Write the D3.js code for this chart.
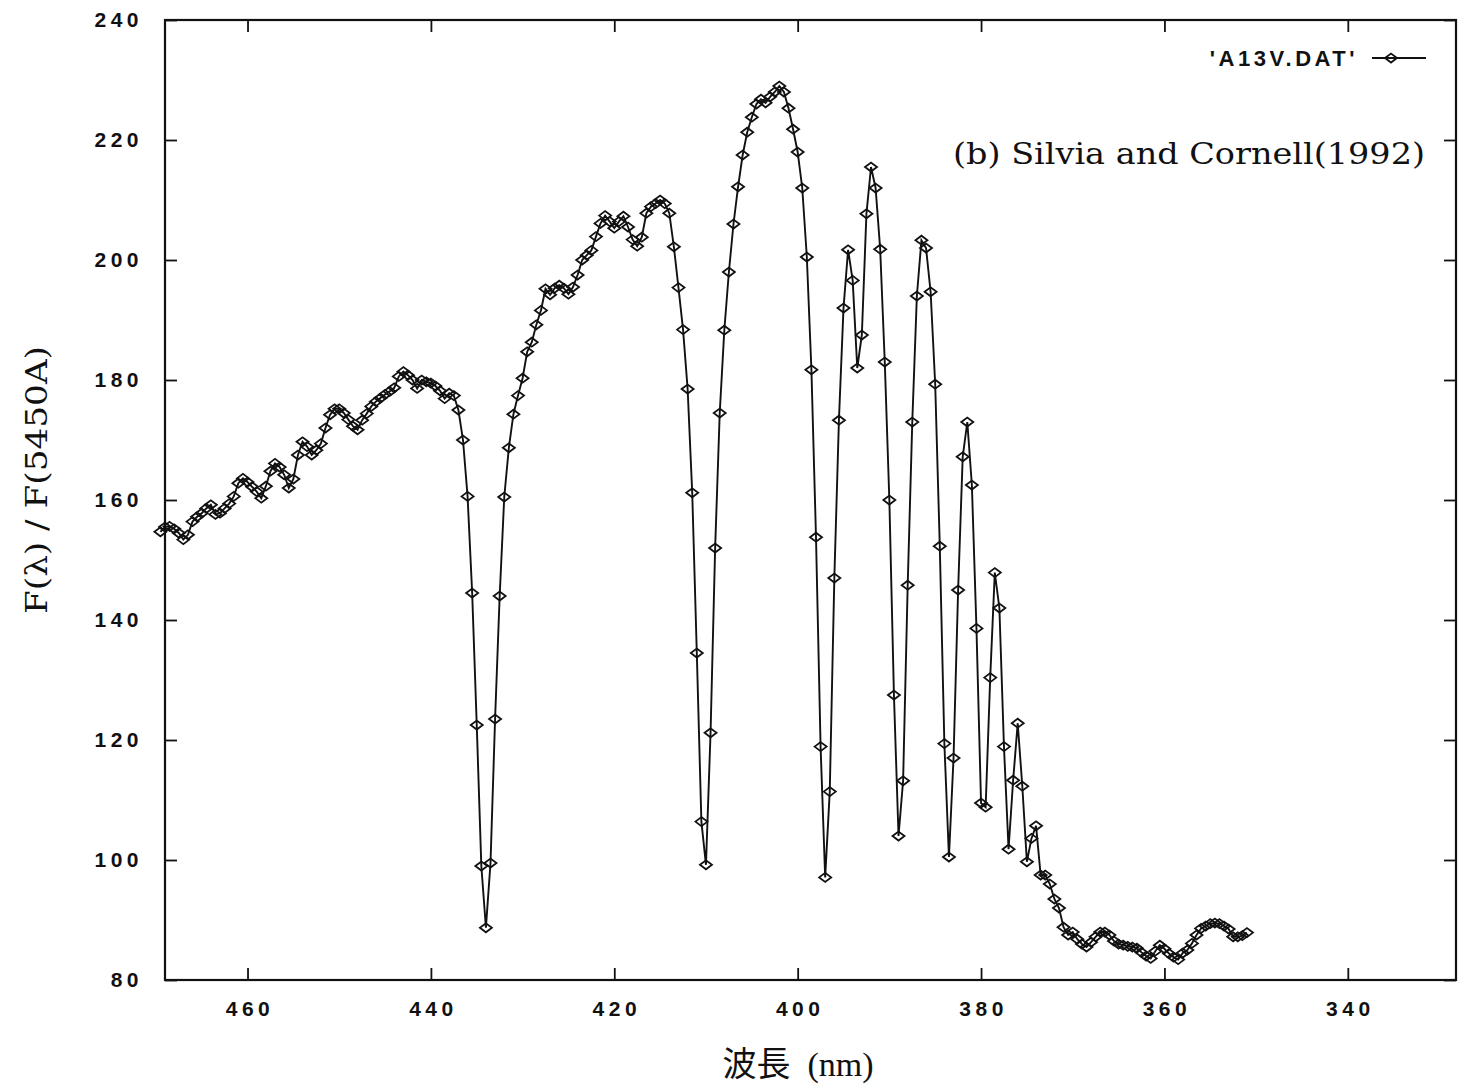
<!DOCTYPE html>
<html>
<head>
<meta charset="utf-8">
<script src="https://cdn.jsdelivr.net/npm/d3@7"></script>
<style>
  body { margin: 0; background: #fff; }
  svg { display: block; }
</style>
</head>
<body>
<div id="container"></div>
<script>
/* DATA */
const wavelength = [
  469.5, 469, 468.5, 468, 467.5, 467, 466.5, 466, 465.5, 465,
  464.5, 464, 463.5, 463, 462.5, 462, 461.5, 461, 460.5, 460,
  459.5, 459, 458.5, 458, 457.5, 457, 456.5, 456, 455.5, 455,
  454.5, 454, 453.5, 453, 452.5, 452, 451.5, 451, 450.5, 450,
  449.5, 449, 448.5, 448, 447.5, 447, 446.5, 446, 445.5, 445,
  444.5, 444, 443.5, 443, 442.5, 442, 441.5, 441, 440.5, 440,
  439.5, 439, 438.5, 438, 437.5, 437, 436.5, 436, 435.5, 435,
  434.5, 434, 433.5, 433, 432.5, 432, 431.5, 431, 430.5, 430,
  429.5, 429, 428.5, 428, 427.5, 427, 426.5, 426, 425.5, 425,
  424.5, 424, 423.5, 423, 422.5, 422, 421.5, 421, 420.5, 420,
  419.5, 419, 418.5, 418, 417.5, 417, 416.5, 416, 415.5, 415,
  414.5, 414, 413.5, 413, 412.5, 412, 411.5, 411, 410.5, 410,
  409.5, 409, 408.5, 408, 407.5, 407, 406.5, 406, 405.5, 405,
  404.5, 404, 403.5, 403, 402.5, 402, 401.5, 401, 400.5, 400,
  399.5, 399, 398.5, 398, 397.5, 397, 396.5, 396, 395.5, 395,
  394.5, 394, 393.5, 393, 392.5, 392, 391.5, 391, 390.5, 390,
  389.5, 389, 388.5, 388, 387.5, 387, 386.5, 386, 385.5, 385,
  384.5, 384, 383.5, 383, 382.5, 382, 381.5, 381, 380.5, 380,
  379.5, 379, 378.5, 378, 377.5, 377, 376.5, 376, 375.5, 375,
  374.5, 374, 373.5, 373, 372.5, 372, 371.5, 371, 370.5, 370,
  369.5, 369, 368.5, 368, 367.5, 367, 366.5, 366, 365.5, 365,
  364.5, 364, 363.5, 363, 362.5, 362, 361.5, 361, 360.5, 360,
  359.5, 359, 358.5, 358, 357.5, 357, 356.5, 356, 355.5, 355,
  354.5, 354, 353.5, 353, 352.5, 352, 351.5, 351
];

const flux = [
  154.7, 155.5, 155.6, 155.2, 154.5, 153.4, 154.2, 156.4, 157.2, 157.8,
  158.6, 159.2, 157.6, 157.8, 158.6, 159.4, 160.6, 162.8, 163.6, 163.0,
  162.2, 161.4, 160.3, 162.3, 164.8, 166.1, 165.5, 164.2, 162.0, 163.5,
  167.5, 169.7, 168.9, 167.5, 168.3, 169.4, 172.0, 174.2, 175.2, 175.2,
  174.5, 173.4, 172.3, 171.7, 173.3, 174.4, 175.6, 176.4, 177.0, 177.6,
  178.1, 178.7, 180.6, 181.4, 180.8, 180.0, 178.6, 180.0, 179.7, 179.5,
  179.0, 178.2, 176.9, 177.8, 177.4, 175.0, 170.0, 160.6, 144.5, 122.5,
  99.0, 88.7, 99.5, 123.5, 144.0, 160.5, 168.7, 174.3, 177.4, 180.3,
  184.7, 186.3, 189.2, 191.6, 195.2, 194.2, 195.3, 195.8, 195.3, 194.3,
  195.5, 197.5, 200.0, 200.8, 201.6, 203.9, 206.1, 207.4, 206.4, 205.3,
  206.4, 207.3, 205.5, 203.4, 202.3, 203.8, 207.8, 208.9, 209.4, 210.0,
  209.4, 207.8, 202.2, 195.4, 188.4, 178.5, 161.2, 134.5, 106.4, 99.2,
  121.2, 152.0, 174.5, 188.3, 198.0, 206.0, 212.2, 217.5, 221.3, 223.8,
  226.0, 226.8, 226.2, 227.2, 228.0, 229.0, 228.0, 225.3, 221.8, 218.0,
  212.0, 200.5, 181.7, 153.8, 118.9, 97.1, 111.4, 147.0, 173.3, 192.0,
  201.7, 196.6, 182.0, 187.5, 207.7, 215.5, 212.0, 201.8, 183.0, 160.0,
  127.5, 104.0, 113.2, 145.8, 173.0, 194.0, 203.3, 202.0, 194.7, 179.3,
  152.3, 119.4, 100.5, 117.0, 145.0, 167.2, 173.0, 162.5, 138.6, 109.5,
  108.8, 130.4, 147.9, 142.0, 118.9, 101.8, 113.3, 122.8, 112.3, 99.7,
  103.6, 105.7, 97.5, 97.5, 96.0, 93.5, 92.0, 88.8, 87.5, 88.0,
  86.8, 86.0, 85.5, 86.3, 87.2, 88.0, 88.0, 87.5, 86.5, 86.0,
  85.8, 85.6, 85.5, 85.3, 84.6, 84.0, 83.6, 84.8, 85.8, 85.2,
  84.4, 83.8, 83.4, 84.5, 85.0, 86.1, 87.5, 88.6, 89.0, 89.4,
  89.5, 89.4, 89.0, 88.5, 87.2, 87.2, 87.4, 87.9
];

const xTicks = [460, 440, 420, 400, 380, 360, 340];
const yTicks = [80, 100, 120, 140, 160, 180, 200, 220, 240];
const seriesName = "'A13V.DAT'";
const noteText = "(b) Silvia and Cornell(1992)";
const xTitle = "波長  (nm)";
const yTitle = "F(λ) / F(5450A)";

/* CONSTANTS */
const width = 1461,
  height = 1086,
  margin = { top: 20, right: 5, bottom: 106, left: 165 },
  tickLen = 12;

const data = wavelength.map((w, i) => ({ w: w, f: flux[i] }));

/* SCALES */
// wavelength runs right to left
const xScale = d3.scaleLinear()
  .domain([469, 328.2])
  .range([margin.left, width - margin.right]);

const yScale = d3.scaleLinear()
  .domain([80, 240])
  .range([height - margin.bottom, margin.top]);

/* SVG */
const svg = d3.select("#container")
  .append("svg")
  .attr("width", width)
  .attr("height", height);

const tickFont = "'Liberation Sans', Arial, sans-serif";
const serif = "'DejaVu Serif', 'Liberation Serif', serif";

// axes, ticks pointing inward on all four sides
svg.append("g")
  .attr("class", "x-axis")
  .attr("transform", `translate(0,${height - margin.bottom})`)
  .call(d3.axisBottom(xScale).tickValues(xTicks).tickSize(-tickLen).tickPadding(21));

svg.append("g")
  .attr("transform", `translate(0,${margin.top})`)
  .call(d3.axisTop(xScale).tickValues(xTicks).tickSize(-tickLen).tickFormat(""));

svg.append("g")
  .attr("class", "y-axis")
  .attr("transform", `translate(${margin.left},0)`)
  .call(d3.axisLeft(yScale).tickValues(yTicks).tickSize(-tickLen).tickPadding(22));

svg.append("g")
  .attr("transform", `translate(${width - margin.right},0)`)
  .call(d3.axisRight(yScale).tickValues(yTicks).tickSize(-tickLen).tickFormat(""));

svg.selectAll(".domain").remove();
svg.selectAll(".tick line").attr("stroke", "#111").attr("stroke-width", 1.8);
svg.selectAll(".tick text")
  .attr("fill", "#111")
  .style("font-family", tickFont)
  .style("font-weight", "bold")
  .style("font-size", "21px")
  .style("letter-spacing", "4.5px");
// trailing letter-spacing pushes centred labels left
svg.selectAll(".x-axis .tick text").attr("dx", "2px");

// frame
svg.append("rect")
  .attr("x", margin.left)
  .attr("y", margin.top)
  .attr("width", width - margin.left - margin.right)
  .attr("height", height - margin.top - margin.bottom)
  .attr("fill", "none")
  .attr("stroke", "#111")
  .attr("stroke-width", 2.2);

// line
const line = d3.line()
  .x(d => xScale(d.w))
  .y(d => yScale(d.f));

svg.append("path")
  .datum(data)
  .attr("d", line)
  .attr("fill", "none")
  .attr("stroke", "#111")
  .attr("stroke-width", 1.9);

// diamond markers
const diamond = "M-6,0L0,-4.5L6,0L0,4.5Z";
svg.append("g")
  .selectAll("path")
  .data(data)
  .join("path")
  .attr("transform", d => `translate(${xScale(d.w)},${yScale(d.f)})`)
  .attr("d", diamond)
  .attr("fill", "none")
  .attr("stroke", "#111")
  .attr("stroke-width", 1.8);

// legend
svg.append("text")
  .attr("x", 1358)
  .attr("y", 66)
  .attr("text-anchor", "end")
  .style("font-family", tickFont)
  .style("font-weight", "bold")
  .style("font-size", "22px")
  .style("letter-spacing", "3.5px")
  .attr("fill", "#111")
  .text(seriesName);

svg.append("line")
  .attr("x1", 1372).attr("x2", 1426)
  .attr("y1", 58).attr("y2", 58)
  .attr("stroke", "#111")
  .attr("stroke-width", 1.9);

svg.append("path")
  .attr("transform", "translate(1391,58)")
  .attr("d", diamond)
  .attr("fill", "none")
  .attr("stroke", "#111")
  .attr("stroke-width", 1.8);

// annotation
svg.append("text")
  .attr("x", 953)
  .attr("y", 164)
  .attr("textLength", 472)
  .attr("lengthAdjust", "spacingAndGlyphs")
  .style("font-family", serif)
  .style("font-size", "29px")
  .attr("fill", "#111")
  .text(noteText);

// axis titles
svg.append("text")
  .attr("transform", "translate(47,480) rotate(-90)")
  .attr("text-anchor", "middle")
  .attr("textLength", 268)
  .attr("lengthAdjust", "spacingAndGlyphs")
  .style("font-family", serif)
  .style("font-size", "29px")
  .attr("fill", "#111")
  .text(yTitle);

svg.append("text")
  .attr("x", 798)
  .attr("y", 1076)
  .attr("text-anchor", "middle")
  .style("white-space", "pre")
  .style("font-family", "'Liberation Serif', 'Noto Sans CJK JP', serif")
  .style("font-size", "34px")
  .attr("fill", "#111")
  .text(xTitle);
</script>
</body>
</html>
